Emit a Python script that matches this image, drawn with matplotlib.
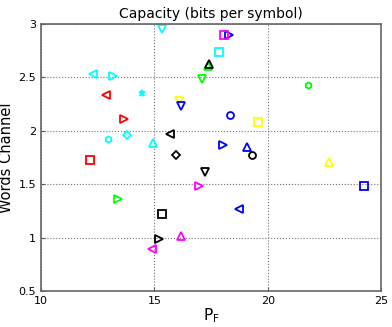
import matplotlib.pyplot as plt

# Points: (P_F, words channel, marker, colour)
pf = [15.32, 12.31, 13.19, 12.87, 14.44, 13.66, 13.81, 12.94, 14.95, 15.69,
      16.09, 16.18, 17.12, 17.38, 17.41, 17.86, 18.28, 18.07, 21.79, 18.32,
      19.56, 18.01, 19.07, 12.16, 15.94, 17.23, 16.97, 13.37, 15.35, 16.16,
      15.20, 14.88, 19.32, 22.70, 24.26, 18.73]
words = [2.95, 2.535, 2.51, 2.33, 2.355, 2.106, 1.96, 1.925, 1.885, 1.97,
         2.28, 2.236, 2.48, 2.61, 2.625, 2.735, 2.897, 2.897, 2.43, 2.143,
         2.084, 1.863, 1.844, 1.729, 1.769, 1.614, 1.486, 1.362, 1.222, 1.019,
         0.99, 0.894, 1.776, 1.71, 1.48, 1.265]
markers = ['v', '<', '>', '<', '*', '>', 'D', 'h', '^', '<',
           'v', 'v', 'v', '^', '^', 's', '>', 's', 'h', 'o',
           's', '>', '^', 's', 'D', 'v', '>', '>', 's', '^',
           '>', '<', 'o', '^', 's', '<']
colors = ['#00ffff', '#00ffff', '#00ffff', '#ff0000', '#00ffff', '#ff0000',
          '#00ffff', '#00ffff', '#00ffff', '#000000',
          '#ffff00', '#0000ff', '#00ff00', '#00ff00', '#000000', '#00ffff',
          '#0000ff', '#ff00ff', '#00ff00', '#0000ff',
          '#ffff00', '#0000ff', '#0000ff', '#ff0000', '#000000', '#000000',
          '#ff00ff', '#00ff00', '#000000', '#ff00ff',
          '#000000', '#ff00ff', '#000000', '#ffff00', '#0000ff', '#0000ff']

fig = plt.figure(figsize=(3.92, 3.27), dpi=100)
ax = fig.add_axes([0.105, 0.11, 0.867, 0.817])

for x, y, m, c in zip(pf, words, markers, colors):
    ms = 6
    if m in ('D', 'h', '*'):
        ms = 4.5
    elif m == 'o':
        ms = 5
    ax.plot(x, y, linestyle='none', marker=m, markersize=ms,
            markerfacecolor='none', markeredgecolor=c, markeredgewidth=1.3)

ax.set_xlim(10, 25)
ax.set_ylim(0.5, 3)
ax.set_xticks([10, 15, 20, 25])
ax.set_yticks([0.5, 1, 1.5, 2, 2.5, 3])
ax.set_yticklabels(['0.5', '1', '1.5', '2', '2.5', '3'])
ax.grid(True, linestyle=':', color='0.45', linewidth=0.8)
ax.tick_params(direction='in', labelsize=8, length=3, color='0.35')
for s in ax.spines.values():
    s.set_color('0.4')
    s.set_linewidth(1.2)

ax.set_title('Capacity (bits per symbol)', fontsize=10, pad=4)
ax.set_ylabel('Words Channel', fontsize=10.5, labelpad=3)
ax.set_xlabel('P$_\\mathregular{F}$', fontsize=11, labelpad=0)

fig.savefig('out.png', dpi=100)
